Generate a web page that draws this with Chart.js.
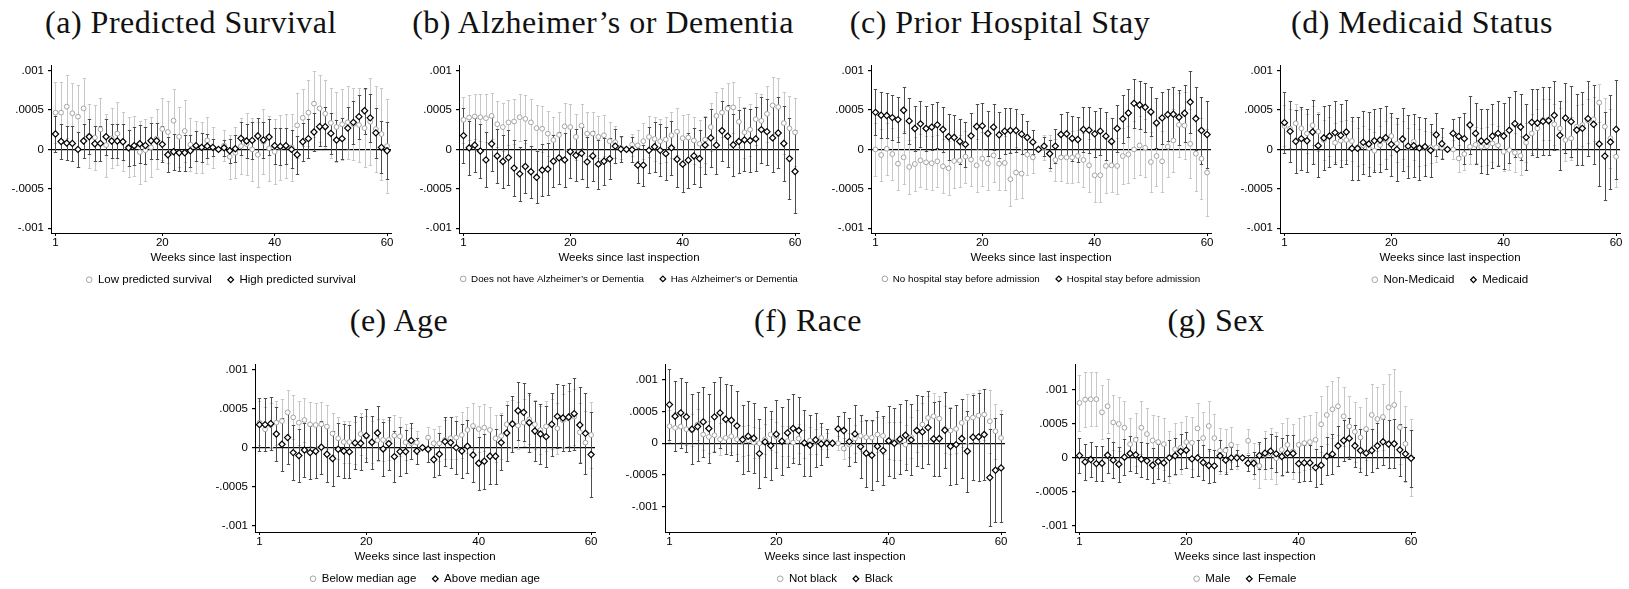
<!DOCTYPE html>
<html>
<head>
<meta charset="utf-8">
<script src="https://cdn.jsdelivr.net/npm/chart.js@4.4.1/dist/chart.umd.min.js"></script>
<style>
  html, body { margin: 0; padding: 0; background: #fff; overflow: hidden; width: 1629px; height: 589px; }
  #page { position: relative; width: 1629px; height: 589px; }
  .ttl { position: absolute; font-family: "Liberation Serif", "Times New Roman", serif; font-size: 32px;
         letter-spacing: 0.5px; line-height: 32px; color: #111; white-space: nowrap; transform: translateX(-50%); }
  canvas { position: absolute; }
</style>
</head>
<body>
<div id="page"></div>
<script>
// Event-study coefficients by week since the last inspection (week 30 is the omitted week).
// Estimates and 95% CI half-widths are listed in units of 1e-4.
const UNIT = 1e-4;
const weeks = [1,2,3,4,5,6,7,8,9,10,11,12,13,14,15,16,17,18,19,20,21,22,23,24,25,26,27,28,29,30,
               31,32,33,34,35,36,37,38,39,40,41,42,43,44,45,46,47,48,49,50,51,52,53,54,55,56,57,58,59,60];
const xTickValues = [1, 20, 40, 60];
const yTickValues = [-0.001, -0.0005, 0, 0.0005, 0.001];
const yTickLabels = ['-.001', '-.0005', '0', '.0005', '.001'];

// (a) Predicted survival
const lowSurvEst = [4.66,4.66,5.42,4.58,4.15,5.2,1.7,1.5,2.54,0.55,1.4,2.0,1.0,0.3,0.4,-0.34,-0.1,0.25,1.36,2.58,2.2,3.64,1.6,2.33,0.6,0.34,0.25,1.14,0.25,0,0.47,-0.93,-0.42,0.42,0.68,0,-0.68,0.97,0.13,-0.3,0.25,0.42,0.25,3.05,4.0,4.66,5.8,5.2,4.53,3.35,2.84,3.18,3.43,3.2,3.1,2.7,3.5,2.58,1.95,0.42];
const lowSurvCI  = [3.9,3.9,4.0,3.9,4.0,3.9,4.0,4.1,4.0,4.0,3.8,4.0,3.8,3.8,3.8,4.0,3.9,3.8,3.8,3.9,3.9,4.0,3.8,3.9,3.4,3.3,3.2,3.0,2.6,0,2.0,2.8,3.2,3.6,3.9,4.0,4.1,4.1,4.1,4.1,4.1,4.1,4.2,4.1,3.6,4.2,4.2,4.25,4.3,4.4,4.4,4.5,4.6,4.6,4.7,4.9,5.5,5.4,5.8,6.0];
const highSurvEst = [1.95,1.0,0.8,0.76,0.0,1.06,1.6,0.72,0.76,1.6,1.06,1.06,0.97,0.2,0.47,0.72,0.5,1.1,1.1,0.64,-0.68,-0.3,-0.42,-0.42,-0.17,0.47,0.25,0.42,0.25,0,0.2,-0.17,0.08,1.4,1.06,1.14,1.7,1.19,1.57,0.47,0.38,0.47,0.0,-0.68,0.97,1.36,2.2,2.88,2.88,2.03,1.19,1.36,2.7,3.43,4.15,4.9,4.0,2.1,0.25,-0.17];
const highSurvCI  = [2.3,2.2,2.2,2.2,2.2,2.2,2.2,2.2,2.2,2.3,2.2,2.2,2.3,2.3,2.4,2.4,2.4,2.3,2.3,2.3,2.2,2.3,2.3,2.3,2.0,1.9,1.8,1.5,1.1,0,1.0,1.5,1.7,2.1,2.2,2.3,2.3,2.3,2.3,2.3,2.3,2.3,2.4,2.4,2.4,2.5,2.4,2.4,2.5,2.6,2.6,2.6,2.7,2.7,2.8,2.9,3.0,3.2,3.3,3.6];

// (b) Alzheimer's or dementia
const noAlzEst = [3.75,4.04,4.17,4.08,3.96,4.25,3.2,2.83,3.42,3.54,4.08,3.87,3.42,2.7,2.62,2.0,1.2,1.83,2.92,2.83,1.58,3.0,2.0,2.0,1.58,1.79,1.04,0.92,0.2,0,0.58,0.5,1.04,1.58,1.33,1.04,1.25,1.79,2.25,1.42,1.5,1.12,0.71,1.25,2.83,4.25,4.67,5.17,5.33,3.5,2.17,2.5,3.83,3.62,4.5,5.58,5.37,3.33,2.67,2.17];
const noAlzCI  = [2.9,2.9,2.9,3.0,3.0,2.9,2.9,3.0,2.9,2.9,3.0,3.0,3.0,2.9,2.9,2.9,2.9,2.9,2.9,2.9,2.9,2.8,2.8,2.8,2.7,2.6,2.4,2.0,1.4,0,1.4,2.0,2.3,2.6,2.8,2.8,2.9,2.9,3.0,3.0,3.0,3.0,3.0,3.0,3.0,3.0,3.1,3.2,3.2,3.2,3.2,3.3,3.3,3.4,3.5,3.6,3.7,3.9,4.1,4.3];
const alzEst = [1.75,0.2,0.54,-0.2,-1.33,0.7,-0.83,-1.54,-1.04,-2.37,-3.1,-2.17,-2.83,-3.54,-2.62,-2.5,-1.5,-1.08,-1.33,-0.29,-0.75,-0.5,-1.58,-0.83,-1.87,-1.5,-1.2,0.42,0.04,0,-0.04,-2.0,-2.0,-0.12,0.33,-0.12,-0.54,0.2,-1.25,-1.87,-1.37,-0.83,-1.17,0.54,1.46,0.54,2.37,1.67,0.58,1.0,1.2,1.12,1.33,2.5,2.25,1.46,2.08,0.75,-1.17,-2.8];
const alzCI  = [3.45,3.4,3.4,3.4,3.5,3.4,3.4,3.4,3.5,3.5,3.4,3.4,3.3,3.3,3.3,3.3,3.3,3.3,3.4,3.3,3.3,3.3,3.2,3.2,3.1,3.0,2.6,2.2,1.6,0,1.6,2.2,2.6,2.9,3.2,3.3,3.4,3.4,3.5,3.5,3.5,3.5,3.6,3.6,3.7,3.7,3.8,3.9,3.9,4.0,4.0,4.0,4.1,4.2,4.2,4.3,4.5,4.7,5.1,5.3];

// (c) Prior hospital stay
const noHospEst = [0,-0.71,0.08,-0.59,-1.81,-1.01,-2.23,-1.85,-1.39,-1.64,-1.76,-1.51,-2.14,-2.39,-1.47,-1.43,-0.92,-1.3,-2.02,-1.18,-1.76,-0.76,-1.81,-1.72,-3.78,-2.94,-3.07,-0.67,-1.01,0,0.2,-0.5,-1.34,-1.01,-1.01,-1.01,-0.84,-1.34,-2.02,-3.28,-3.28,-2.1,-2.02,-2.1,-0.84,-0.63,0,0.5,0.21,-1.6,-0.84,-1.51,0.34,1.13,3.11,3.03,0.71,-0.55,-1.18,-2.94];
const noHospCI  = [3.4,3.3,3.3,3.3,3.4,3.4,3.4,3.4,3.4,3.4,3.4,3.3,3.4,3.4,3.4,3.3,3.3,3.3,3.4,3.4,3.4,3.4,3.4,3.4,3.4,3.3,3.1,2.6,2.0,0,1.6,2.3,2.7,3.0,3.2,3.3,3.3,3.4,3.4,3.4,3.4,3.4,3.4,3.5,3.5,3.6,3.6,3.7,3.7,3.8,3.8,3.9,3.9,4.0,4.1,4.2,4.4,4.7,5.1,5.5];
const hospEst = [4.7,4.33,4.29,4.03,3.78,4.96,3.61,2.65,3.24,2.65,2.82,3.11,2.52,1.6,1.51,1.01,0.63,1.72,2.9,2.98,2.02,2.82,1.85,2.31,2.4,2.4,1.93,1.51,0.92,0,0.42,-0.55,0.42,1.89,1.97,1.39,1.26,2.52,2.44,1.97,2.31,1.68,1.01,2.65,3.87,4.62,5.84,5.63,5.34,4.75,3.36,3.99,4.41,4.45,4.08,4.58,6.0,3.91,2.4,1.89];
const hospCI  = [2.9,2.9,2.9,2.9,2.9,2.9,2.9,2.9,2.9,2.9,2.9,2.9,2.9,2.9,2.9,2.9,2.9,2.9,2.9,2.9,2.9,2.9,2.9,2.9,2.8,2.7,2.5,2.1,1.5,0,1.2,1.8,2.2,2.6,2.8,2.9,2.9,2.9,2.9,2.9,3.0,3.0,3.0,3.0,3.0,3.0,3.1,3.1,3.1,3.1,3.2,3.3,3.3,3.4,3.5,3.6,3.9,4.0,4.2,4.3];

// (d) Medicaid status
const nonMedEst = [2.97,2.63,3.3,2.67,2.03,3.05,2.25,1.19,1.61,0.85,1.1,1.19,1.06,0.25,0.51,0.17,-0.17,0.55,1.19,1.69,0.76,1.19,0.25,0.97,0.25,0.17,0.25,0.25,0.25,0,0,-1.14,-0.59,0.34,0.59,0.34,0.42,0.76,0.51,-0.3,-0.08,-0.42,-0.8,0.85,2.03,2.67,3.73,3.81,3.18,2.67,1.19,1.4,2.88,3.09,3.64,3.81,5.93,2.88,1.4,-0.93];
const nonMedCI  = [2.6,2.5,2.5,2.5,2.5,2.5,2.5,2.5,2.5,2.5,2.5,2.5,2.5,2.4,2.4,2.4,2.4,2.4,2.4,2.4,2.4,2.4,2.4,2.3,2.3,2.2,2.0,1.8,1.3,0,1.2,1.7,2.0,2.2,2.3,2.4,2.4,2.4,2.5,2.5,2.5,2.5,2.5,2.5,2.5,2.5,2.6,2.6,2.6,2.6,2.6,2.7,2.7,2.7,2.8,2.8,2.4,3.6,3.7,3.9];
const medEst = [3.39,2.29,1.02,1.36,1.1,2.2,0.47,1.44,1.69,2.12,1.78,2.2,0.13,0.13,0.89,0.68,1.1,1.19,1.48,0.64,0,1.31,0.42,0.47,0.17,0.34,-0.13,1.86,0.72,0,2.03,1.65,1.36,3.09,2.03,1.06,1.02,1.69,2.03,1.69,2.42,3.26,2.84,1.53,3.43,3.35,3.56,3.64,4.32,1.78,3.98,3.52,2.46,2.67,3.9,3.18,0.68,-0.85,0.93,2.54];
const medCI  = [3.9,3.9,4.0,4.0,4.0,4.0,4.0,4.0,3.9,4.0,4.0,4.0,4.0,4.0,4.0,4.0,4.0,4.0,4.0,4.0,4.0,4.0,4.0,4.0,4.0,3.7,3.4,2.7,2.0,0,1.8,2.5,3.2,3.7,3.9,4.0,4.1,4.1,4.1,4.2,4.2,4.2,4.2,4.2,4.2,4.3,4.3,4.3,4.4,4.4,4.5,4.5,4.5,4.6,4.8,5.0,5.3,5.6,6.0,6.3];

// (e) Age
const belowAgeEst = [3.19,2.34,2.89,3.19,3.4,4.51,3.87,3.19,3.53,2.98,2.89,2.98,2.68,1.79,1.19,0.72,0.72,0.55,1.74,1.4,0.68,0.94,0.98,0.98,1.53,1.45,0.68,0.55,0.64,0,1.28,0.55,0.55,0.98,1.19,1.28,1.62,2.26,2.77,2.38,2.55,2.26,1.19,1.49,2.98,3.11,2.81,3.19,3.62,2.98,2.26,2.72,2.98,2.47,3.49,3.74,3.96,1.96,0.64,1.62];
const belowAgeCI  = [2.8,2.8,2.8,2.8,2.8,2.8,2.8,2.8,2.8,2.8,2.8,2.8,2.8,2.7,2.7,2.7,2.7,2.7,2.7,2.7,2.7,2.7,2.7,2.6,2.6,2.5,2.3,2.0,1.5,0,1.3,1.8,2.2,2.5,2.7,2.8,2.9,2.9,3.0,3.0,3.0,3.0,3.0,3.0,3.0,3.0,3.0,3.0,3.1,3.1,3.1,3.2,3.2,3.3,3.4,3.5,3.6,3.8,4.0,4.2];
const aboveAgeEst = [2.94,2.94,3.06,1.74,0.43,1.28,-0.64,-1.02,-0.3,-0.64,-0.47,0.04,-0.85,-1.4,-0.21,-0.43,-0.55,0.6,0.55,1.53,0.68,1.87,-0.17,0.51,-1.15,-0.51,-0.51,0.89,-0.43,0,-0.21,-1.53,-0.85,0.77,0.64,0,-0.43,0.17,-0.94,-2.0,-1.74,-1.1,-1.1,0.64,1.87,3.02,4.72,4.51,3.19,2.13,1.74,1.4,2.98,4.0,3.79,3.91,4.34,2.89,1.83,-0.89];
const aboveAgeCI  = [3.4,3.4,3.4,3.4,3.4,3.4,3.5,3.4,3.4,3.4,3.4,3.4,3.5,3.5,3.4,3.4,3.4,3.4,3.4,3.4,3.4,3.4,3.4,3.4,3.3,3.1,2.8,2.3,1.7,0,1.6,2.2,2.7,3.1,3.3,3.4,3.4,3.4,3.4,3.4,3.5,3.5,3.5,3.5,3.6,3.6,3.7,3.7,3.8,3.8,3.9,3.9,4.0,4.1,4.2,4.3,4.6,4.9,5.2,5.4];

// (f) Race
const notBlackEst = [2.68,2.42,2.63,2.21,2.05,2.95,1.37,1.0,1.26,0.63,0.84,1.1,0.63,0.32,0.47,0.1,0,0.63,1.37,1.0,0.32,0.32,0.1,0.74,-0.05,0.42,0.32,0.84,0.32,0,0,-0.84,-0.21,0.74,1.16,0.95,0.89,1.37,1.16,0.42,0.32,0.32,-0.21,0.95,1.89,2.95,4.0,4.26,3.89,2.21,2.0,2.26,3.21,3.89,4.05,4.37,4.53,3.47,1.89,0.84];
const notBlackCI  = [2.5,2.5,2.5,2.5,2.5,2.5,2.5,2.5,2.5,2.5,2.5,2.5,2.4,2.4,2.4,2.4,2.4,2.4,2.4,2.4,2.4,2.4,2.4,2.3,2.2,2.1,2.0,1.8,1.3,0,1.1,1.6,1.9,2.2,2.4,2.5,2.6,2.7,2.8,2.9,3.0,3.0,3.1,3.2,3.3,3.4,3.5,3.6,3.6,3.7,3.7,3.8,3.8,3.9,3.9,4.0,4.0,5.0,4.3,4.4];
const blackEst = [6.1,4.26,4.79,4.16,2.21,2.63,3.37,2.32,4.16,4.79,3.79,3.63,2.74,0.58,1.1,0.79,-1.63,0.21,-0.37,1.42,0.32,1.63,2.32,2.0,0.05,-0.32,0.53,-0.11,0,0,2.26,2.0,0.26,1.47,-0.53,-1.58,-1.89,-0.47,-1.16,0.37,0,0.63,1.26,0.53,2.0,1.79,2.47,0.68,0.74,2.05,-0.47,-0.21,0.74,-1.26,0.95,1.0,1.37,-5.42,-4.26,-3.89];
const blackCI  = [5.6,5.5,5.5,5.5,5.5,5.5,5.5,5.5,5.5,5.6,5.5,5.5,5.5,5.5,5.5,5.5,5.5,5.5,5.4,5.4,5.4,5.4,5.4,5.3,5.2,4.8,4.2,3.3,2.2,0,2.0,3.0,3.8,4.5,5.0,5.3,5.5,5.5,5.5,5.5,5.5,5.5,5.5,5.6,5.6,5.7,5.8,5.8,5.9,6.0,6.1,6.2,6.3,6.4,6.7,6.9,7.2,7.7,8.2,8.5];

// (g) Sex
const maleEst = [8.08,8.57,8.62,8.62,6.7,7.59,5.22,4.98,4.43,2.02,2.66,4.43,3.5,2.56,2.32,2.02,0.1,1.28,1.48,2.32,2.22,4.33,2.91,4.68,2.91,1.03,1.08,1.92,0.2,0,2.51,-0.44,-1.18,0.44,0.64,-0.05,1.18,1.92,0.94,1.92,2.17,2.32,2.66,4.93,6.31,7.14,7.59,6.11,4.63,3.84,3.0,4.24,6.31,5.71,6.01,7.44,7.78,4.48,2.07,0.05];
const maleCI  = [4.1,4.0,4.0,4.0,4.0,4.0,4.0,3.9,3.9,3.9,3.9,3.9,3.9,3.8,3.8,3.8,3.8,3.8,3.8,3.8,3.8,3.8,3.8,3.7,3.6,3.4,3.1,2.6,1.9,0,1.8,2.6,3.2,3.5,3.7,3.8,3.9,3.9,4.0,4.0,4.0,4.0,4.1,4.1,4.2,4.2,4.3,4.3,4.4,4.4,4.5,4.5,4.6,4.7,4.8,4.9,5.3,5.4,5.6,5.7];
const femaleEst = [0.34,-0.59,-0.25,-0.84,-0.79,0.39,-0.34,-0.94,0.1,0.64,0.44,-0.2,-0.44,-1.08,-0.54,-0.74,0,0.3,0.94,1.13,-0.15,0,-0.69,-1.13,-1.18,0.3,-0.34,0,0,0,-0.79,-0.79,0.34,0.69,0.99,0.59,0.2,0.69,0.64,-0.84,-0.74,-0.74,-1.43,-1.08,0.25,0.54,1.77,2.56,2.86,1.77,1.08,0.69,1.08,1.77,2.36,2.02,2.07,1.18,0.59,-0.05];
const femaleCI  = [2.6,2.6,2.6,2.6,2.6,2.6,2.6,2.6,2.6,2.6,2.6,2.6,2.6,2.6,2.6,2.6,2.6,2.6,2.6,2.6,2.6,2.6,2.6,2.5,2.4,2.3,2.0,1.6,1.2,0,1.2,1.6,2.0,2.3,2.5,2.6,2.7,2.7,2.7,2.7,2.7,2.7,2.8,2.8,2.8,2.9,2.9,3.0,3.0,3.1,3.1,3.2,3.2,3.3,3.4,3.5,3.6,3.8,4.0,4.2];

// Panel layout: plot-area left/top in page pixels, y range, title position.
const panels = [
  { title: '(a) Predicted Survival', names: ['Low predicted survival', 'High predicted survival'],
    light: [lowSurvEst, lowSurvCI], dark: [highSurvEst, highSurvCI],
    left: 51, top: 65, yMin: -0.00106, yMax: 0.00107, tx: 191, ty: 6 },
  { title: '(b) Alzheimer\u2019s or Dementia', names: ['Does not have Alzheimer\u2019s or Dementia', 'Has Alzheimer\u2019s or Dementia'],
    light: [noAlzEst, noAlzCI], dark: [alzEst, alzCI],
    left: 459, top: 65, yMin: -0.00106, yMax: 0.00107, tx: 603, ty: 6, legendSize: 9.8 },
  { title: '(c) Prior Hospital Stay', names: ['No hospital stay before admission', 'Hospital stay before admission'],
    light: [noHospEst, noHospCI], dark: [hospEst, hospCI],
    left: 871, top: 65, yMin: -0.00106, yMax: 0.00107, tx: 1000, ty: 6, legendSize: 9.8 },
  { title: '(d) Medicaid Status', names: ['Non-Medicaid', 'Medicaid'],
    light: [nonMedEst, nonMedCI], dark: [medEst, medCI],
    left: 1280, top: 65, yMin: -0.00106, yMax: 0.00107, tx: 1422, ty: 6 },
  { title: '(e) Age', names: ['Below median age', 'Above median age'],
    light: [belowAgeEst, belowAgeCI], dark: [aboveAgeEst, aboveAgeCI],
    left: 255, top: 364, yMin: -0.00108, yMax: 0.00107, tx: 399, ty: 304 },
  { title: '(f) Race', names: ['Not black', 'Black'],
    light: [notBlackEst, notBlackCI], dark: [blackEst, blackCI],
    left: 665, top: 364, yMin: -0.0014, yMax: 0.00125, tx: 808, ty: 304 },
  { title: '(g) Sex', names: ['Male', 'Female'],
    light: [maleEst, maleCI], dark: [femaleEst, femaleCI],
    left: 1075, top: 364, yMin: -0.00109, yMax: 0.00138, tx: 1216, ty: 304 }
];

const SANS = '"Liberation Sans", Arial, Helvetica, sans-serif';
const AXIS_W = 50;      // room for the y tick labels (mirrored on the right)
const PLOT_W = 340;
const PLOT_H = 168;
const PAD_TOP = 12;
const XAXIS_H = 25;     // x tick marks + tick labels
const LEG_PAD = 16;
const TICK_FONT = 11.5;
const CAP = 1.7;        // half width of CI caps

// Vertical confidence intervals with small caps, drawn below the markers.
const ciBars = {
  id: 'ciBars',
  beforeDatasetsDraw(chart) {
    const { ctx, scales: { x, y } } = chart;
    ctx.save();
    ctx.lineWidth = 1;
    for (const di of [1, 0]) {
      const ds = chart.data.datasets[di];
      ctx.strokeStyle = ds.ciColor;
      ds.data.forEach((pt, i) => {
        const h = ds.ci[i] * UNIT;
        if (!h) return;
        const px = Math.round(x.getPixelForValue(pt.x)) + 0.5;
        const y1 = Math.round(y.getPixelForValue(pt.y + h)) + 0.5;
        const y2 = Math.round(y.getPixelForValue(pt.y - h)) + 0.5;
        ctx.beginPath();
        ctx.moveTo(px, y1); ctx.lineTo(px, y2);
        ctx.moveTo(px - CAP, y1); ctx.lineTo(px + CAP, y1);
        ctx.moveTo(px - CAP, y2); ctx.lineTo(px + CAP, y2);
        ctx.stroke();
      });
    }
    ctx.restore();
  }
};

const page = document.getElementById('page');

function series(est) {
  return weeks.map((w, i) => ({ x: w, y: est[i] * UNIT }));
}

function makePanel(p) {
  const t = document.createElement('div');
  t.className = 'ttl';
  t.textContent = p.title;
  t.style.left = p.tx + 'px';
  t.style.top = p.ty + 'px';
  page.appendChild(t);

  const legendSize = p.legendSize || 11.5;
  // Chart.js sizes a one-row bottom legend as font size + padding + 10
  const legendH = legendSize + LEG_PAD + 10;
  const W = AXIS_W + PLOT_W + AXIS_W;
  const H = PAD_TOP + PLOT_H + XAXIS_H + legendH;
  const cv = document.createElement('canvas');
  cv.width = W; cv.height = Math.ceil(H);
  cv.style.width = W + 'px'; cv.style.height = Math.ceil(H) + 'px';
  cv.style.left = (p.left - AXIS_W) + 'px';
  cv.style.top = (p.top - PAD_TOP) + 'px';
  page.appendChild(cv);

  new Chart(cv, {
    type: 'scatter',
    data: {
      datasets: [
        { label: p.names[1], data: series(p.dark[0]), ci: p.dark[1], ciColor: '#4d4d4d',
          pointStyle: 'rectRot', pointRadius: 3.1, pointBorderWidth: 1.2,
          pointBorderColor: '#000', pointBackgroundColor: '#fff' },
        { label: p.names[0], data: series(p.light[0]), ci: p.light[1], ciColor: '#c8c8c8',
          pointStyle: 'circle', pointRadius: 2.4, pointBorderWidth: 1,
          pointBorderColor: '#a3a3a3', pointBackgroundColor: '#fff' }
      ]
    },
    options: {
      responsive: false,
      animation: false,
      devicePixelRatio: 1,
      events: [],
      layout: { padding: { top: PAD_TOP, right: 0, bottom: Math.ceil(H) - H, left: 0 } },
      plugins: {
        tooltip: { enabled: false },
        legend: {
          position: 'bottom',
          reverse: true,
          labels: {
            usePointStyle: true, boxWidth: 6, boxHeight: 4, padding: LEG_PAD,
            color: '#000', font: { family: SANS, size: legendSize }
          }
        }
      },
      scales: {
        x: {
          type: 'linear', min: 0.2, max: 60.7,
          afterBuildTicks: s => { s.ticks = xTickValues.map(v => ({ value: v })); },
          afterFit: s => { s.height = XAXIS_H; },
          ticks: { color: '#000', padding: 0, maxRotation: 0, autoSkip: false,
                   font: { family: SANS, size: TICK_FONT } },
          grid: { drawOnChartArea: false, tickLength: 3, tickColor: '#000' },
          border: { color: '#000', width: 1 },
          // the axis title sits just under the tick labels, in the legend's top padding
          title: { display: true, text: 'Weeks since last inspection', color: '#000',
                   padding: { top: 0, bottom: -TICK_FONT * 0.6 }, font: { family: SANS, size: TICK_FONT } }
        },
        y: {
          min: p.yMin, max: p.yMax,
          afterBuildTicks: s => { s.ticks = yTickValues.map(v => ({ value: v })); },
          afterFit: s => { s.width = AXIS_W; },
          ticks: { color: '#000', padding: 4, autoSkip: false,
                   font: { family: SANS, size: TICK_FONT },
                   callback: (v, i) => yTickLabels[i] },
          grid: { tickLength: 3, tickColor: '#000', lineWidth: 1.2,
                  color: c => (c.tick && c.tick.value === 0) ? '#000' : 'rgba(0,0,0,0)' },
          border: { color: '#000', width: 1 }
        },
        // empty right-hand gutter, the same width as the y axis, so the legend centres on the plot
        gutter: {
          type: 'linear', position: 'right', display: true,
          ticks: { display: false }, grid: { display: false }, border: { display: false },
          afterFit: s => { s.width = AXIS_W; }
        }
      }
    },
    plugins: [ciBars]
  });
}

panels.forEach(makePanel);
</script>
</body>
</html>
